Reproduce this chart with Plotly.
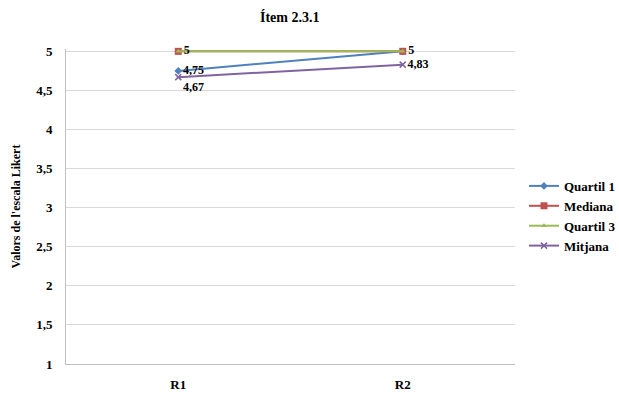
import plotly.graph_objects as go

rounds = ["R1", "R2"]
quartil1 = [4.75, 5]
mediana = [5, 5]
quartil3 = [5, 5]
mitjana = [4.67, 4.83]

y_ticks = [1, 1.5, 2, 2.5, 3, 3.5, 4, 4.5, 5]


def fmt(v):
    s = f"{v:g}"
    return s.replace(".", ",")


font_family = "Liberation Serif, Times New Roman, serif"
label_font = dict(family=font_family, size=12, color="black", weight="bold")

fig = go.Figure()

fig.add_trace(go.Scatter(
    x=rounds, y=quartil1, name="Quartil 1", mode="lines+markers+text",
    line=dict(color="#4F81BD", width=2),
    marker=dict(symbol="diamond", size=6, color="#4F81BD"),
    text=[fmt(quartil1[0]), ""], textposition="middle right",
    textfont=label_font, cliponaxis=False, legendrank=1,
))
fig.add_trace(go.Scatter(
    x=rounds, y=mitjana, name="Mitjana", mode="lines+markers+text",
    line=dict(color="#8064A2", width=2),
    marker=dict(symbol="x-thin", size=6, color="#8064A2",
                line=dict(color="#8064A2", width=1.5)),
    text=[fmt(v) for v in mitjana], textposition=["bottom right", "middle right"],
    textfont=label_font, cliponaxis=False, legendrank=4,
))
fig.add_trace(go.Scatter(
    x=rounds, y=mediana, name="Mediana", mode="lines+markers",
    line=dict(color="#C0504D", width=2),
    marker=dict(symbol="square", size=7, color="#C0504D"),
    cliponaxis=False, legendrank=2,
))
fig.add_trace(go.Scatter(
    x=rounds, y=quartil3, name="Quartil 3", mode="lines+markers",
    line=dict(color="#9BBB59", width=2),
    marker=dict(symbol="triangle-up", size=5, color="#9BBB59"),
    cliponaxis=False, legendrank=3,
))
# value labels of the median, drawn on top of the lines
fig.add_trace(go.Scatter(
    x=rounds, y=mediana, mode="markers+text", showlegend=False, hoverinfo="skip",
    marker=dict(size=7, color="rgba(0,0,0,0)"),
    text=[fmt(v) for v in mediana], textposition="middle right",
    textfont=label_font, cliponaxis=False,
))

fig.update_layout(
    width=619, height=397,
    margin=dict(l=66, r=104, t=49, b=33, autoexpand=False),
    paper_bgcolor="white", plot_bgcolor="white",
    separators=",.",
    title=dict(text="Ítem 2.3.1", x=0.468, xanchor="center", y=0.957, yanchor="middle",
               font=dict(family=font_family, size=14, color="black", weight="bold")),
    font=dict(family=font_family, size=12, color="black"),
    showlegend=True,
    legend=dict(x=1.02, y=0.47, xanchor="left", yanchor="middle",
                font=dict(family=font_family, size=13, color="black", weight="bold"),
                tracegroupgap=0, itemwidth=30, traceorder="normal"),
    xaxis=dict(
        type="category", range=[-0.5, 1.5],
        showgrid=False, showline=True, linecolor="#BFBFBF", linewidth=1,
        ticks="", tickfont=dict(family=font_family, size=13, color="black", weight="bold"),
        ticklabelstandoff=8,
    ),
    yaxis=dict(
        range=[1, 5.03], tickvals=y_ticks, ticktext=[fmt(v) for v in y_ticks],
        showgrid=True, gridcolor="#D9D9D9", gridwidth=1,
        showline=True, linecolor="#BFBFBF", linewidth=1,
        zeroline=False, ticks="", ticklabelstandoff=10,
        tickfont=dict(family=font_family, size=13, color="black", weight="bold"),
        title=dict(text="Valors de l'escala Likert", standoff=12,
                   font=dict(family=font_family, size=12, color="black", weight="bold")),
    ),
)

fig.write_html("out.html")
